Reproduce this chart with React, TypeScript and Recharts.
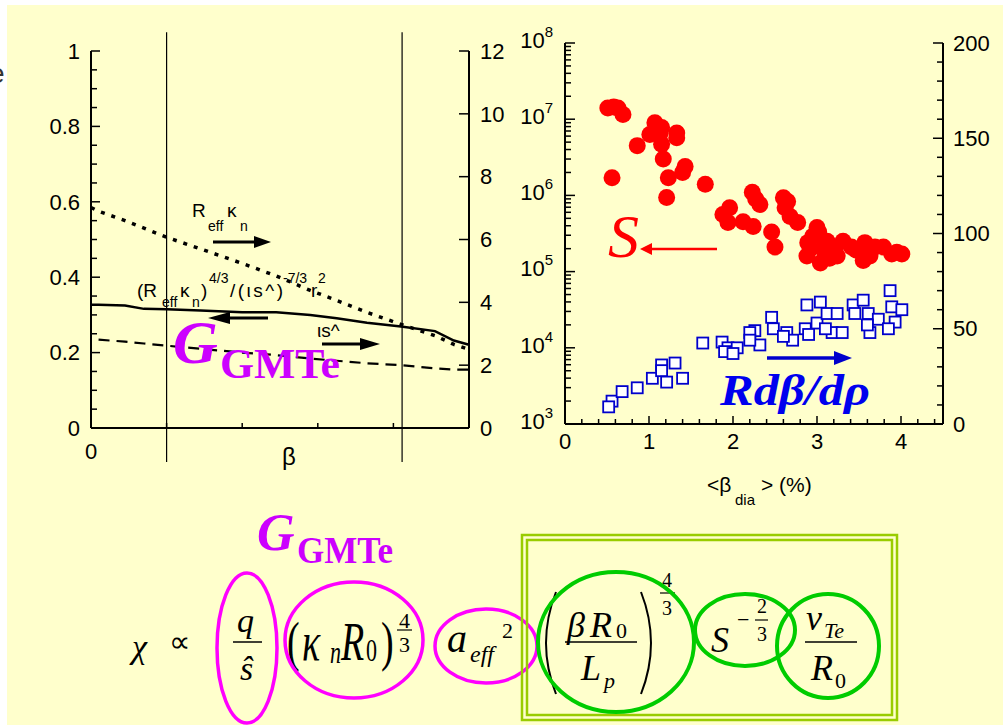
import React from "react";
import { ComposedChart, Line, Scatter, XAxis, YAxis, ReferenceLine } from "recharts";

const SANS = "'Liberation Sans', Arial, sans-serif";
const SERIF = "'Liberation Serif', 'Times New Roman', serif";

// ---- left panel: profiles vs beta (x normalised 0..1)
const betaX = [0, 0.02, 0.09, 0.14, 0.2, 0.29, 0.4, 0.49, 0.58, 0.65, 0.73, 0.82, 0.91, 0.96, 1.0];
const gmte = [0.327, 0.327, 0.325, 0.316, 0.315, 0.312, 0.307, 0.307, 0.3, 0.291, 0.279, 0.269, 0.257, 0.232, 0.221];
const reffKn = [7.02, 6.9, 6.6, 6.36, 6.07, 5.7, 5.24, 4.84, 4.38, 4.06, 3.68, 3.3, 2.94, 2.66, 2.5];
const iotaShear = [null, 2.81, 2.75, 2.69, 2.62, 2.52, 2.4, 2.32, 2.21, 2.14, 2.06, 2.0, 1.9, 1.86, 1.86];
const leftRows = betaX.map((b, i) => ({ b, g: gmte[i], rk: reffKn[i], is: iotaShear[i] }));
const betaMarks = [0.2, 0.823];
const leftYTicks = [0, 0.05, 0.1, 0.15, 0.2, 0.25, 0.3, 0.35, 0.4, 0.45, 0.5, 0.55, 0.6, 0.65, 0.7, 0.75, 0.8, 0.85, 0.9, 0.95, 1];
const leftRTicks = [0, 2, 4, 6, 8, 10, 12];
const leftXTicks = [0, 0.2, 0.4, 0.6, 0.8, 1];

// ---- right panel: S (log, left axis) and R dbeta/drho (linear, right axis) vs <beta_dia>
const sBeta = [0.51, 0.58, 0.63, 0.69, 0.86, 0.56, 1.07, 1.13, 1.15, 1.01, 1.15, 1.17, 1.23, 1.21, 1.33, 1.33, 1.43, 1.4, 1.67,
  1.88, 1.96, 1.94, 2.12, 2.24, 2.23, 2.27, 2.32, 2.46, 2.5, 2.6, 2.65, 2.62, 2.68, 2.77, 3.0, 2.89, 2.88, 3.04, 3.12, 3.21,
  3.24, 3.31, 3.41, 3.57, 3.63, 3.69, 3.79, 3.89, 4.01, 2.95, 3.47, 3.95, 3.55, 3.02, 3.07, 3.15, 2.92];
const sVal = [1.4e7, 1.45e7, 1.4e7, 1.15e7, 4.5e6, 1.7e6, 9e6, 6.5e6, 7.8e6, 6.3e6, 4.7e6, 3e6, 1.7e6, 9.4e5, 6.6e6, 5.7e6, 2.4e6, 2e6, 1.4e6,
  5.6e5, 6.9e5, 4.4e5, 4.5e5, 3.9e5, 1.1e6, 9e5, 7.6e5, 3.3e5, 2.1e5, 9.3e5, 8.3e5, 6.9e5, 5.3e5, 4.4e5, 3.8e5, 2.4e5, 1.6e5, 1.3e5, 2.5e5, 1.9e5,
  1.6e5, 2.5e5, 2.1e5, 2.4e5, 1.6e5, 2.1e5, 2.1e5, 1.7e5, 1.7e5, 2.9e5, 1.9e5, 1.8e5, 1.4e5, 3.3e5, 2.0e5, 1.5e5, 2.0e5];
const rBeta = [0.56, 0.52, 0.68, 0.86, 1.04, 1.15, 1.15, 1.21, 1.31, 1.4, 1.64, 1.87, 1.94, 2.05, 2.26, 2.2, 2.32, 2.46, 2.48, 2.64,
  2.71, 2.86, 2.88, 3.04, 3.0, 3.12, 3.18, 3.3, 3.24, 3.43, 3.55, 3.61, 3.63, 3.73, 3.87, 3.89, 3.93, 4.01, 3.45, 3.1,
  2.2, 2.6, 2.9, 3.6, 3.85, 1.9, 2.0];
const rVal = [12, 9, 17, 19, 24, 31, 28, 22, 32, 24, 42.5, 43, 40, 40, 49, 48, 41.5, 56, 50, 48,
  44, 50, 62.5, 64, 53, 58, 48, 48, 58, 62.5, 65, 58, 48, 55, 70, 61.5, 53.5, 60, 58, 50,
  44, 46, 47, 52, 50, 38, 37];
const sPts = sBeta.map((x, i) => ({ x, s: sVal[i] }));
const rPts = rBeta.map((x, i) => ({ x, r: rVal[i] }));
const decades = [1e3, 1e4, 1e5, 1e6, 1e7, 1e8];
const logTicks = [...decades, ...decades.slice(0, 5).flatMap((d) => [2, 3, 4, 5, 6, 7, 8, 9].map((m) => m * d))];
const rightRTicks = [0, 10, 20, 30, 40, 50, 60, 70, 80, 90, 100, 110, 120, 130, 140, 150, 160, 170, 180, 190, 200];
const rightXTicks = [0, 0.2, 0.4, 0.6, 0.8, 1, 1.2, 1.4, 1.6, 1.8, 2, 2.2, 2.4, 2.6, 2.8, 3, 3.2, 3.4, 3.6, 3.8, 4, 4.2, 4.4];

const near = (v: number, step: number) => Math.abs(v / step - Math.round(v / step)) < 1e-6;

type Side = "left" | "right" | "bottom" | "top";
function tickRenderer(side: Side, gap: number, isMajor: (v: number) => boolean, label: (v: number) => React.ReactNode, majorLen = 9, minorLen = 6, dy = "0.35em") {
  return (p: any) => {
    const v = p.payload.value;
    const len = isMajor(v) ? majorLen : minorLen;
    const lab = label(v);
    const t = { fontSize: 22, fontFamily: SANS, fill: "#000" };
    if (side === "left") {
      const ax = p.x + gap;
      return (
        <g>
          <line x1={ax} x2={ax + len} y1={p.y} y2={p.y} stroke="#000" strokeWidth={1.5} />
          {lab != null && <text x={p.x} y={p.y} dy={dy} textAnchor="end" {...t}>{lab}</text>}
        </g>
      );
    }
    if (side === "right") {
      const ax = p.x - gap;
      return (
        <g>
          <line x1={ax} x2={ax - len} y1={p.y} y2={p.y} stroke="#000" strokeWidth={1.5} />
          {lab != null && <text x={p.x} y={p.y} dy={dy} textAnchor="start" {...t}>{lab}</text>}
        </g>
      );
    }
    if (side === "bottom") {
      const ay = p.y - gap;
      return (
        <g>
          <line x1={p.x} x2={p.x} y1={ay} y2={ay - len} stroke="#000" strokeWidth={1.5} />
          {lab != null && <text x={p.x} y={p.y} dy="0.71em" textAnchor="middle" {...t}>{lab}</text>}
        </g>
      );
    }
    const ay = p.y + gap;
    return <line x1={p.x} x2={p.x} y1={ay} y2={ay + len} stroke="#000" strokeWidth={1.5} />;
  };
}

const frame = { stroke: "#000", strokeWidth: 2 };

function LeftPanel() {
  return (
    <ComposedChart width={520} height={480} data={leftRows} margin={{ top: 51, right: 11, bottom: 22, left: 31 }}>
      <XAxis xAxisId="b" dataKey="b" type="number" domain={[0, 1]} ticks={leftXTicks} interval={0} height={30}
        axisLine={frame} tickLine={false} tickSize={0} tickMargin={15}
        tick={tickRenderer("bottom", 15, () => true, (v) => (v === 0 ? "0" : null), 5, 5)} />
      <XAxis xAxisId="t" orientation="top" type="number" domain={[0, 1]} allowDataOverflow ticks={leftXTicks} interval={0} height={0}
        axisLine={frame} tickLine={false} tickSize={0} tickMargin={5}
        tick={tickRenderer("top", 5, () => true, () => null, 6, 6)} />
      <YAxis yAxisId="l" type="number" domain={[0, 1]} allowDataOverflow ticks={leftYTicks} interval={0} width={60}
        axisLine={frame} tickLine={false} tickSize={0} tickMargin={11}
        tick={tickRenderer("left", 11, (v) => near(v, 0.2), (v) => (near(v, 0.2) ? String(Number(v.toFixed(2))) : null), 9, 6)} />
      <YAxis yAxisId="r" orientation="right" type="number" domain={[0, 12]} allowDataOverflow ticks={leftRTicks} interval={0} width={40}
        axisLine={frame} tickLine={false} tickSize={0} tickMargin={11}
        tick={tickRenderer("right", 11, () => true, (v) => String(v), 10, 10)} />
      {betaMarks.map((m) => (
        <ReferenceLine key={m} xAxisId="b" yAxisId="l" ifOverflow="visible" stroke="#000" strokeWidth={1.2}
          segment={[{ x: m, y: -0.09 }, { x: m, y: 1.05 }]} />
      ))}
      <Line xAxisId="b" yAxisId="r" dataKey="rk" type="linear" stroke="#000" strokeWidth={3.5} strokeDasharray="4 7"
        dot={false} isAnimationActive={false} />
      <Line xAxisId="b" yAxisId="l" dataKey="g" type="linear" stroke="#000" strokeWidth={2.5}
        dot={false} isAnimationActive={false} />
      <Line xAxisId="b" yAxisId="r" dataKey="is" type="linear" stroke="#000" strokeWidth={2.2} strokeDasharray="11 7"
        dot={false} isAnimationActive={false} />
    </ComposedChart>
  );
}

function RightPanel() {
  return (
    <ComposedChart width={495} height={520} margin={{ top: 43, right: 7, bottom: 36, left: 10 }}>
      <XAxis xAxisId="b" dataKey="x" type="number" domain={[0, 4.5]} allowDataOverflow ticks={rightXTicks} interval={0} height={60}
        axisLine={frame} tickLine={false} tickSize={0} tickMargin={9}
        tick={tickRenderer("bottom", 9, (v) => near(v, 1), (v) => (near(v, 1) ? String(Math.round(v)) : null), 8, 5)} />
      <XAxis xAxisId="t" orientation="top" type="number" domain={[0, 4.5]} allowDataOverflow ticks={rightXTicks} interval={0} height={0}
        axisLine={frame} tickLine={false} tickSize={0} tickMargin={5}
        tick={tickRenderer("top", 5, (v) => near(v, 1), () => null, 8, 5)} />
      <YAxis yAxisId="s" dataKey="s" type="number" scale="log" domain={[1e3, 1e8]} allowDataOverflow ticks={logTicks} interval={0} width={50}
        axisLine={frame} tickLine={false} tickSize={0} tickMargin={12}
        tick={tickRenderer("left", 12, (v) => near(Math.log10(v), 1),
          (v) => (near(Math.log10(v), 1) ? <>10<tspan dy={-11} fontSize={15}>{Math.round(Math.log10(v))}</tspan></> : null), 10, 6, "0.22em")} />
      <YAxis yAxisId="r" dataKey="r" orientation="right" type="number" domain={[0, 200]} allowDataOverflow ticks={rightRTicks} interval={0} width={50}
        axisLine={frame} tickLine={false} tickSize={0} tickMargin={10}
        tick={tickRenderer("right", 10, (v) => near(v, 50), (v) => (near(v, 50) ? String(v) : null), 10, 6)} />
      <Scatter xAxisId="b" yAxisId="s" data={sPts} isAnimationActive={false}
        shape={(p: any) => <circle cx={p.cx} cy={p.cy} r={8.5} fill="#FF0000" />} />
      <Scatter xAxisId="b" yAxisId="r" data={rPts} isAnimationActive={false}
        shape={(p: any) => <rect x={p.cx - 5.5} y={p.cy - 5.5} width={11} height={11} fill="#FFFFFF" stroke="#0000CC" strokeWidth={1.8} />} />
    </ComposedChart>
  );
}

const Stretch = ({ base, sy, children }: { base: number; sy: number; children: React.ReactNode }) => (
  <g transform={`translate(0 ${base}) scale(1 ${sy}) translate(0 ${-base})`}>{children}</g>
);

function Overlay() {
  const it = { fontFamily: SERIF, fontStyle: "italic" as const, fill: "#000" };
  const up = { fontFamily: SERIF, fill: "#000" };
  const sans = { fontFamily: SANS, fill: "#000" };
  const mag = "#CC00FF";
  const pink = "#FF00FF";
  const grn = "#00CC00";
  return (
    <svg width={1003} height={725} style={{ position: "absolute", left: 0, top: 0, pointerEvents: "none" }}>
      <text x={-11} y={83} fontSize={28} {...sans} fill="#333">e</text>

      {/* left panel annotations */}
      <text x={192} y={217} fontSize={19} {...sans}>R</text>
      <text x={208} y={231} fontSize={14} {...sans}>eff</text>
      <text x={227} y={217} fontSize={19} {...sans}>κ</text>
      <text x={240} y={231} fontSize={14} {...sans}>n</text>
      <line x1={213} y1={242} x2={256} y2={242} stroke="#000" strokeWidth={3} />
      <polygon points="254,236 271,242 254,248" fill="#000" />

      <text x={137} y={297} fontSize={19} {...sans}>(R</text>
      <text x={162} y={307} fontSize={14} {...sans}>eff</text>
      <text x={180} y={297} fontSize={19} {...sans}>κ</text>
      <text x={192} y={307} fontSize={14} {...sans}>n</text>
      <text x={201} y={297} fontSize={19} {...sans}>)</text>
      <text x={209} y={283} fontSize={14} {...sans}>4/3</text>
      <text x={230} y={297} fontSize={19} {...sans} textLength={53} lengthAdjust="spacing">/(ιs^)</text>
      <text x={283} y={283} fontSize={14} {...sans}>-7/3</text>
      <text x={311} y={297} fontSize={19} {...sans}>r</text>
      <text x={318} y={283} fontSize={14} {...sans}>2</text>
      <line x1={228} y1={318} x2={268} y2={318} stroke="#000" strokeWidth={3} />
      <polygon points="230,312 208,318 230,324" fill="#000" />

      <text x={317} y={337} fontSize={19} {...sans}>ιs^</text>
      <line x1={322} y1={344} x2={362} y2={344} stroke="#000" strokeWidth={3} />
      <polygon points="360,338 380,344 360,350" fill="#000" />

      <text x={173} y={363} fontSize={62} fontFamily={SERIF} fontStyle="italic" fontWeight="bold" fill={mag}>G</text>
      <text x={220} y={378} fontSize={42} fontFamily={SERIF} fontWeight="bold" fill={mag} textLength={120} lengthAdjust="spacingAndGlyphs">GMTe</text>

      <text x={282} y={465} fontSize={24} {...sans}>β</text>

      {/* right panel annotations */}
      <text x={608} y={257} fontSize={62} fontFamily={SERIF} fontStyle="italic" fill="#FF0000">S</text>
      <line x1={650} y1={249} x2={717} y2={249} stroke="#FF0000" strokeWidth={2.5} />
      <polygon points="652,243 640,249 652,255" fill="#FF0000" />
      <line x1={767} y1={358} x2={836} y2={358} stroke="#0000CC" strokeWidth={3.5} />
      <polygon points="834,351 852,358 834,365" fill="#0000CC" />
      <text x={720} y={405} fontSize={45} fontFamily={SERIF} fontStyle="italic" fontWeight="bold" fill="#0000EE"
        textLength={150} lengthAdjust="spacingAndGlyphs">Rdβ/dρ</text>
      <text x={707} y={492} fontSize={21} {...sans}>&lt;β</text>
      <text x={735} y={505} fontSize={15} {...sans}>dia</text>
      <text x={761} y={492} fontSize={21} {...sans}>&gt; (%)</text>

      {/* formula */}
      <text x={257} y={550} fontSize={52} fontFamily={SERIF} fontStyle="italic" fontWeight="bold" fill={mag}>G</text>
      <text x={297} y={563} fontSize={38} fontFamily={SERIF} fontWeight="bold" fill={mag} textLength={96} lengthAdjust="spacingAndGlyphs">GMTe</text>

      <text x={132} y={658} fontSize={34} {...it}>χ</text>
      <text x={169} y={652} fontSize={30} {...up}>∝</text>
      <text x={237} y={632} fontSize={34} {...it}>q</text>
      <line x1={233} y1={642} x2={262} y2={642} stroke="#000" strokeWidth={1.5} />
      <text x={240} y={680} fontSize={34} {...it}>ŝ</text>
      <ellipse cx={247} cy={648} rx={30} ry={75} fill="none" stroke={pink} strokeWidth={3.5} />

      <Stretch base={660} sy={1.45}>
        <text x={287} y={660} fontSize={38} {...up}>(</text>
        <text x={302} y={660} fontSize={38} {...it}>κ</text>
        <text x={330} y={662} fontSize={22} {...it}>n</text>
        <text x={341} y={660} fontSize={38} {...it}>R</text>
        <text x={366} y={661} fontSize={22} {...up}>0</text>
        <text x={381} y={660} fontSize={38} {...up}>)</text>
      </Stretch>
      <text x={399} y={628} fontSize={22} {...up}>4</text>
      <line x1={397} y1={630} x2={412} y2={630} stroke="#000" strokeWidth={1.2} />
      <text x={399} y={652} fontSize={22} {...up}>3</text>
      <ellipse cx={354} cy={640} rx={69} ry={58} fill="none" stroke={pink} strokeWidth={3.5} />

      <text x={447} y={652} fontSize={40} {...it}>a</text>
      <text x={470} y={662} fontSize={24} {...it}>eff</text>
      <text x={502} y={638} fontSize={22} {...up}>2</text>
      <ellipse cx={486} cy={646} rx={51} ry={37} fill="none" stroke={pink} strokeWidth={3.5} />

      <rect x={522} y={535} width={375} height={185} fill="none" stroke="#99CC00" strokeWidth={2.5} />
      <rect x={527} y={540} width={365} height={175} fill="none" stroke="#99CC00" strokeWidth={2.5} />

      <path d="M556 592 Q536 643 556 694" fill="none" stroke="#000" strokeWidth={2} />
      <path d="M641 592 Q661 643 641 694" fill="none" stroke="#000" strokeWidth={2} />
      <text x={567} y={637} fontSize={36} {...it}>β</text>
      <text x={590} y={637} fontSize={36} {...it}>R</text>
      <text x={616} y={638} fontSize={22} {...up}>0</text>
      <line x1={565} y1={642} x2={637} y2={642} stroke="#000" strokeWidth={1.5} />
      <text x={581} y={680} fontSize={36} {...it}>L</text>
      <text x={604} y={688} fontSize={22} {...it}>p</text>
      <text x={662} y={587} fontSize={20} {...up}>4</text>
      <line x1={660} y1={593} x2={675} y2={593} stroke="#000" strokeWidth={1.2} />
      <text x={662} y={615} fontSize={20} {...up}>3</text>
      <ellipse cx={616} cy={642} rx={78} ry={70} fill="none" stroke={grn} strokeWidth={4} />

      <text x={711} y={652} fontSize={36} {...it}>S</text>
      <text x={737} y={627} fontSize={22} {...up}>−</text>
      <text x={757} y={613} fontSize={20} {...up}>2</text>
      <line x1={755} y1={620} x2={768} y2={620} stroke="#000" strokeWidth={1.2} />
      <text x={757} y={641} fontSize={20} {...up}>3</text>
      <ellipse cx={745} cy={630} rx={50} ry={36} fill="none" stroke={grn} strokeWidth={4} />

      <text x={806} y={630} fontSize={36} {...it}>v</text>
      <text x={824} y={638} fontSize={22} {...it}>Te</text>
      <line x1={805} y1={642} x2={857} y2={642} stroke="#000" strokeWidth={1.5} />
      <text x={811} y={680} fontSize={36} {...it}>R</text>
      <text x={835} y={688} fontSize={22} {...up}>0</text>
      <ellipse cx={828} cy={646} rx={51} ry={52} fill="none" stroke={grn} strokeWidth={4} />
    </svg>
  );
}

export default function App() {
  return (
    <div style={{ position: "absolute", left: 0, top: 0, width: 1003, height: 725, background: "#FFFFFF", overflow: "hidden" }}>
      <div style={{ position: "absolute", left: 7, top: 5, width: 996, height: 720, background: "#FFFFCC" }} />
      <div style={{ position: "absolute", left: 0, top: 0 }}>
        <LeftPanel />
      </div>
      <div style={{ position: "absolute", left: 505, top: 0 }}>
        <RightPanel />
      </div>
      <Overlay />
    </div>
  );
}
